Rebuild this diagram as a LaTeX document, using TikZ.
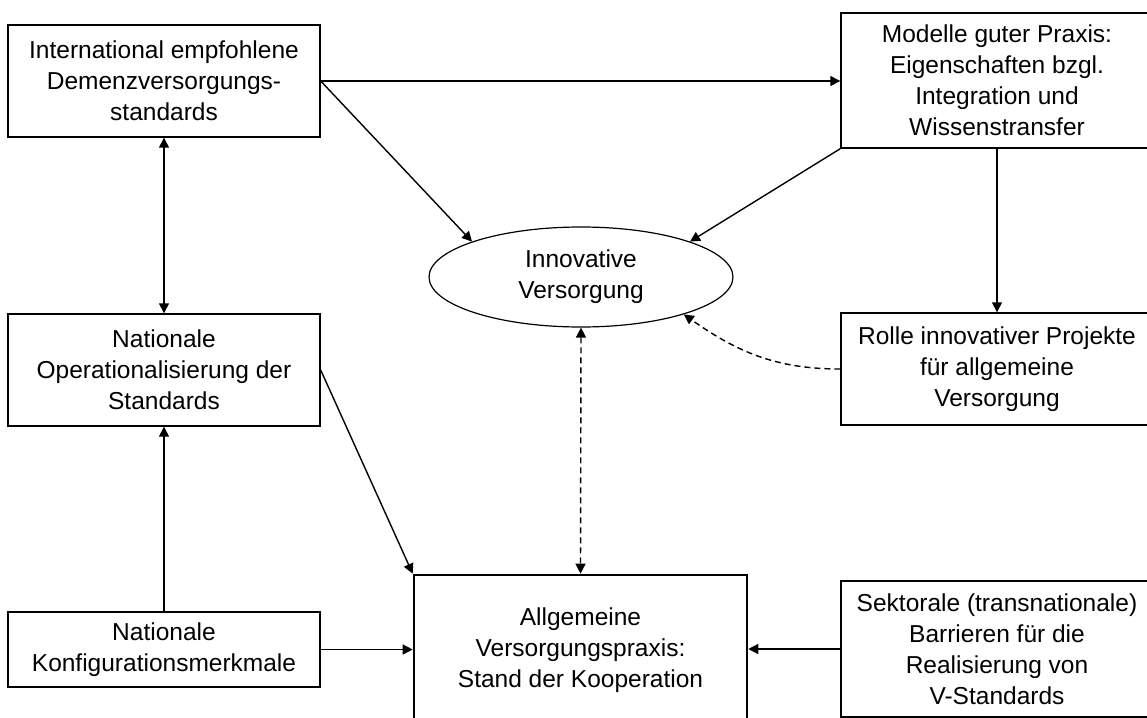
\documentclass[tikz,border=0pt]{standalone}
\usepackage{fontspec}
\setmainfont{Liberation Sans}
\usetikzlibrary{shapes.geometric,arrows.meta}
\tikzset{
  box/.style={draw, line width=0.7pt, rectangle, inner sep=0pt, minimum width=156pt, align=center,
    font=\fontsize{12.25pt}{15.5pt}\selectfont},
  mainbox/.style={box, line width=1.3pt, minimum width=166.5pt},
  oval/.style={draw, line width=0.6pt, ellipse, inner sep=0pt, minimum width=152pt, minimum height=50pt,
    align=center, font=\fontsize{12.25pt}{15.5pt}\selectfont},
  arr/.style={line width=0.7pt, -{Triangle[length=5pt,width=5pt]}},
  darr/.style={arr, {Triangle[length=5pt,width=5pt]}-{Triangle[length=5pt,width=5pt]}},
  dashline/.style={dash pattern=on 3pt off 2pt}
}
\begin{document}
\begin{tikzpicture}[x=0.5pt, y=-0.5pt]
  \useasboundingbox (0,0) rectangle (1147,718);

  \node [box, minimum height=56pt] (intl) at (164,81)
    {International empfohlene\\Demenzversorgungs-\\standards};
  \node [box, minimum height=67.5pt] (modelle) at (997,80.5)
    {Modelle guter Praxis:\\Eigenschaften bzgl.\\Integration und\\Wissenstransfer};
  \node [oval] (innov) at (581,277) {Innovative\\Versorgung};
  \node [box, minimum height=56pt] (oper) at (164,370)
    {Nationale\\Operationalisierung der\\Standards};
  \node [box, minimum height=56pt] (rolle) at (997,369)
    {Rolle innovativer Projekte\\für allgemeine\\Versorgung};
  \node [box, minimum height=37.5pt] (konfig) at (164,649.5)
    {Nationale\\Konfigurationsmerkmale};
  \node [mainbox, minimum height=75pt] (praxis) at (580.5,650)
    {Allgemeine\\Versorgungspraxis:\\Stand der Kooperation};
  \node [box, minimum height=68pt] (sektor) at (997,649)
    {Sektorale (transnationale)\\Barrieren für die\\Realisierung von\\V-Standards};

  \draw [arr] (intl.east) -- (intl.east -| modelle.west);
  \draw [arr] (intl.east) -- (innov.162);
  \draw [arr] (modelle.south west) -- (innov.18);
  \draw [arr] (modelle.south) -- (rolle.north);
  \draw [arr, dashline] (rolle.west) to [out=180, in=-35] (innov.340);
  \draw [darr, dashline] (innov.south) -- (praxis.north);

  \draw [darr] (intl.south) -- (oper.north);
  \draw [arr] (konfig.north) -- (oper.south);
  \draw [arr] (oper.east) -- (praxis.north west);
  \draw [arr] (konfig.east) -- (konfig.east -| praxis.west);
  \draw [arr] (sektor.west) -- (sektor.west -| praxis.east);
\end{tikzpicture}
\end{document}
